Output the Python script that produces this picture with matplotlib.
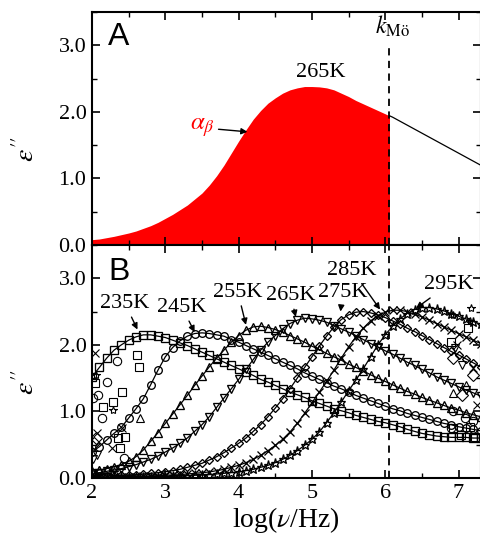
import numpy as np
import matplotlib
matplotlib.use('Agg')
import matplotlib.pyplot as plt
from matplotlib.patches import Rectangle
from matplotlib.ticker import MultipleLocator, FormatStrFormatter

# frequency grid, log10(nu/Hz)
logf = np.linspace(2.0, 7.3, 54)

# panel A: 265 K loss curve
eps_a = [0.08, 0.09, 0.11, 0.13, 0.155, 0.18, 0.21, 0.25, 0.29, 0.34,
         0.40, 0.46, 0.53, 0.60, 0.69, 0.78, 0.90, 1.04, 1.20, 1.38,
         1.56, 1.73, 1.89, 2.02, 2.13, 2.21, 2.28, 2.33, 2.36, 2.38,
         2.38, 2.375, 2.36, 2.33, 2.28, 2.23, 2.17, 2.12, 2.07, 2.02,
         1.97, 1.92, 1.86, 1.80, 1.74, 1.68, 1.62, 1.56, 1.50, 1.44,
         1.38, 1.32, 1.26, 1.20]
k_mo = 6.05

# panel B: loss curves at several temperatures
temps = ['235K', '245K', '255K', '265K', '275K', '285K', '295K']
eps_235 = [1.52, 1.66, 1.80, 1.92, 2.00, 2.07, 2.12, 2.15, 2.15, 2.13,
           2.11, 2.07, 2.03, 1.99, 1.94, 1.89, 1.84, 1.79, 1.74, 1.69,
           1.64, 1.59, 1.54, 1.48, 1.44, 1.39, 1.34, 1.29, 1.25, 1.21,
           1.16, 1.12, 1.08, 1.04, 1.01, 0.98, 0.94, 0.91, 0.88, 0.85,
           0.83, 0.80, 0.77, 0.73, 0.70, 0.67, 0.65, 0.63, 0.62, 0.61,
           0.61, 0.61, 0.60, 0.60]
eps_245 = [0.39, 0.47, 0.57, 0.67, 0.76, 0.90, 1.04, 1.19, 1.40, 1.62,
           1.82, 1.96, 2.06, 2.13, 2.17, 2.18, 2.17, 2.15, 2.13, 2.08,
           2.04, 1.99, 1.94, 1.89, 1.84, 1.79, 1.74, 1.69, 1.64, 1.58,
           1.53, 1.48, 1.43, 1.38, 1.34, 1.29, 1.24, 1.20, 1.16, 1.12,
           1.08, 1.04, 1.01, 0.97, 0.94, 0.91, 0.88, 0.85, 0.82, 0.80,
           0.77, 0.75, 0.73, 0.71]
eps_255 = [0.10, 0.12, 0.14, 0.17, 0.20, 0.25, 0.32, 0.42, 0.55, 0.68,
           0.82, 0.96, 1.10, 1.24, 1.39, 1.53, 1.67, 1.80, 1.92, 2.04,
           2.14, 2.22, 2.27, 2.28, 2.26, 2.23, 2.19, 2.14, 2.09, 2.04,
           1.98, 1.93, 1.87, 1.82, 1.77, 1.71, 1.66, 1.61, 1.55, 1.50,
           1.45, 1.40, 1.35, 1.30, 1.26, 1.21, 1.17, 1.13, 1.09, 1.05,
           1.02, 0.98, 0.95, 0.92]
eps_265 = [0.07, 0.08, 0.10, 0.12, 0.14, 0.17, 0.20, 0.24, 0.28, 0.33,
           0.39, 0.45, 0.52, 0.60, 0.70, 0.80, 0.92, 1.06, 1.20, 1.34,
           1.48, 1.63, 1.78, 1.92, 2.04, 2.14, 2.24, 2.32, 2.37, 2.40,
           2.39, 2.37, 2.34, 2.29, 2.24, 2.19, 2.14, 2.08, 2.02, 1.97,
           1.91, 1.86, 1.80, 1.74, 1.69, 1.63, 1.58, 1.52, 1.47, 1.42,
           1.37, 1.32, 1.28, 1.23]
eps_275 = [0.02, 0.025, 0.03, 0.035, 0.04, 0.045, 0.05, 0.06, 0.07, 0.08,
           0.095, 0.11, 0.13, 0.16, 0.19, 0.22, 0.27, 0.32, 0.38, 0.45,
           0.52, 0.60, 0.70, 0.80, 0.92, 1.05, 1.19, 1.34, 1.50, 1.66,
           1.82, 1.98, 2.13, 2.27, 2.38, 2.45, 2.49, 2.50, 2.48, 2.45,
           2.41, 2.36, 2.31, 2.25, 2.20, 2.14, 2.08, 2.02, 1.96, 1.90,
           1.85, 1.79, 1.73, 1.67]
eps_285 = [0.01, 0.01, 0.01, 0.015, 0.015, 0.02, 0.02, 0.025, 0.03, 0.035,
           0.04, 0.045, 0.05, 0.06, 0.07, 0.08, 0.09, 0.11, 0.13, 0.16,
           0.19, 0.23, 0.28, 0.34, 0.41, 0.49, 0.58, 0.69, 0.82, 0.97,
           1.13, 1.29, 1.45, 1.62, 1.80, 1.97, 2.12, 2.25, 2.36, 2.44,
           2.49, 2.52, 2.52, 2.50, 2.46, 2.42, 2.37, 2.32, 2.27, 2.22,
           2.17, 2.12, 2.07, 2.02]
eps_295 = [0.005, 0.006, 0.007, 0.008, 0.01, 0.01, 0.01, 0.015, 0.015, 0.02,
           0.02, 0.025, 0.03, 0.035, 0.04, 0.045, 0.05, 0.06, 0.07, 0.08,
           0.09, 0.11, 0.13, 0.16, 0.19, 0.23, 0.28, 0.34, 0.41, 0.49,
           0.58, 0.69, 0.83, 0.98, 1.14, 1.31, 1.47, 1.64, 1.82, 2.00,
           2.15, 2.28, 2.39, 2.47, 2.53, 2.56, 2.56, 2.54, 2.51, 2.47,
           2.43, 2.39, 2.35, 2.31]
series = [eps_235, eps_245, eps_255, eps_265, eps_275, eps_285, eps_295]

# scattered points at the ends of the frequency window
noise_sq_x = [2.04, 2.15, 2.29, 2.41, 2.61, 2.64, 2.35, 2.45, 2.38, 7.13, 6.90, 6.93, 7.15, 7.04, 7.23]
noise_sq_y = [1.43, 1.07, 1.14, 1.29, 1.85, 1.67, 0.60, 0.62, 0.45, 2.25, 2.05, 0.75, 0.77, 0.65, 0.62]
noise_o_x = [2.34, 2.20, 2.08, 2.13, 2.44, 2.02, 6.93, 7.09, 6.90, 7.20]
noise_o_y = [1.75, 1.44, 1.25, 0.90, 0.30, 1.20, 1.00, 0.90, 0.75, 0.85]
noise_star_x = [2.29, 2.05, 6.93, 7.17, 7.15]
noise_star_y = [1.02, 1.55, 2.45, 2.55, 2.36]
noise_up_x = [2.65, 2.10, 2.30, 6.93, 7.10]
noise_up_y = [0.90, 0.12, 0.10, 1.28, 1.40]
noise_dn_x = [2.07, 2.02, 7.05, 6.95]
noise_dn_y = [0.35, 0.28, 1.70, 1.95]
noise_d_x = [2.05, 2.03, 6.93, 7.20, 7.05]
noise_d_y = [0.60, 0.52, 1.80, 1.55, 1.25]
noise_x_x = [2.04, 2.07, 2.27, 2.41, 6.98, 7.20, 7.25]
noise_x_y = [1.88, 0.68, 0.45, 0.75, 2.00, 1.65, 1.10]

# styling / layout
markers = ['s', 'o', '^', 'v', 'D', 'x', '*']
msizes = [5.5, 5.5, 5.5, 5.5, 4.5, 5.5, 6.5]
label_pos = [(2.45, 2.62), (3.23, 2.56), (3.99, 2.79), (4.71, 2.74),
             (5.42, 2.79), (5.55, 3.12), (6.86, 2.90)]
tip_pos = [(2.62, 2.23), (3.40, 2.19), (4.10, 2.30), (4.78, 2.42),
           (5.39, 2.50), (5.93, 2.53), (6.42, 2.55)]

plt.rcParams['font.family'] = ['Liberation Serif', 'DejaVu Serif']
plt.rcParams['mathtext.fontset'] = 'stix'

fig = plt.figure(figsize=(4.81, 5.37), dpi=100)
axA = fig.add_axes([0.1913, 0.5438, 0.8077, 0.4339])
axB = fig.add_axes([0.1913, 0.1099, 0.8077, 0.4339])

arrow = dict(arrowstyle='-|>', color='k', lw=1.0, mutation_scale=9, shrinkA=1, shrinkB=0)

# ---- panel A
fill = axA.fill_between(logf, 0, eps_a, color='red', lw=0)
fill.set_clip_path(Rectangle((2.0, 0), k_mo - 2.0, 3.5, transform=axA.transData))
ln, = axA.plot(logf, eps_a, color='k', lw=0.9)
ln.set_clip_path(Rectangle((k_mo, 0), 2.0, 3.5, transform=axA.transData))
axA.plot([k_mo, k_mo], [0, 3.02], color='k', lw=1.3, ls=(0, (4, 3)))
axA.text(5.12, 2.59, '265K', fontsize=16, ha='center', va='center')
axA.text(5.86, 3.18, r'$k_{\mathrm{Mö}}$', fontsize=17, ha='left', va='baseline')
axA.annotate(r'$\alpha_{\beta}$', xy=(4.12, 1.70), xytext=(3.5, 1.76), color='red',
             fontsize=18, ha='center', va='center', arrowprops=arrow)
axA.text(2.22, 3.0, 'A', fontsize=23, family='Liberation Sans', va='baseline')

# ---- panel B
for eps, mk, ms in zip(series, markers, msizes):
    axB.plot(logf, eps, color='k', lw=0.9, marker=mk, ms=ms, mfc='none', mec='k', mew=0.95)

for nx, ny, mk in [(noise_sq_x, noise_sq_y, 's'), (noise_o_x, noise_o_y, 'o'),
                   (noise_star_x, noise_star_y, '*'), (noise_up_x, noise_up_y, '^'),
                   (noise_dn_x, noise_dn_y, 'v'), (noise_d_x, noise_d_y, 'D'),
                   (noise_x_x, noise_x_y, 'x')]:
    axB.plot(nx, ny, ls='none', marker=mk, ms=6, mfc='none', mec='k', mew=0.8)

for t, lp, tp in zip(temps, label_pos, tip_pos):
    axB.annotate(t, xy=tp, xytext=lp, fontsize=16, ha='center', va='center', arrowprops=arrow)

axB.axvline(k_mo, color='k', lw=1.3, ls=(0, (4, 3)))
axB.text(2.22, 2.97, 'B', fontsize=23, family='Liberation Sans', va='baseline')

for ax in (axA, axB):
    ax.set_xlim(2, 7.3)
    ax.set_ylim(0, 3.5)
    ax.xaxis.set_major_locator(MultipleLocator(1))
    ax.xaxis.set_minor_locator(MultipleLocator(0.5))
    ax.yaxis.set_major_locator(MultipleLocator(1))
    ax.yaxis.set_minor_locator(MultipleLocator(0.5))
    ax.yaxis.set_major_formatter(FormatStrFormatter('%.1f'))
    ax.tick_params(which='both', direction='in', top=True, right=True, labelsize=16, pad=4)
    ax.tick_params(which='major', length=6, width=1.2)
    ax.tick_params(which='minor', length=3.5, width=1.0)
    for s in ax.spines.values():
        s.set_linewidth(1.5)
    ax.set_ylabel(r"$\varepsilon''$", fontsize=20)
    ax.yaxis.set_label_coords(-0.135, 0.41)

axA.tick_params(labelbottom=False)
axB.set_xlabel(r'log($\nu$/Hz)', fontsize=20, labelpad=2)

fig.savefig('out.png', dpi=100)
